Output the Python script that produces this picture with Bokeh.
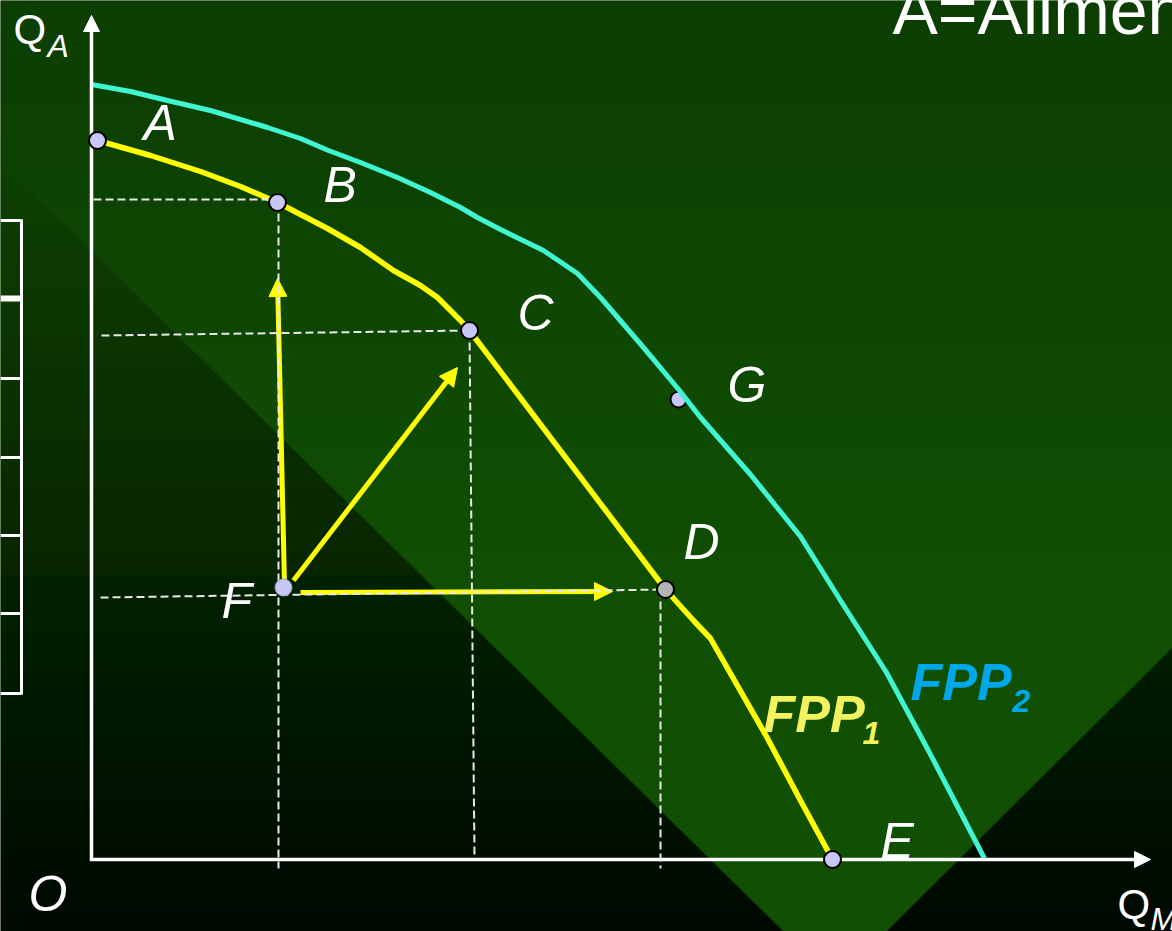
import numpy as np
from bokeh.plotting import figure
from bokeh.models import Range1d, Arrow, NormalHead
from bokeh.core.properties import value
from bokeh.embed import file_html
from bokeh.resources import INLINE

# ---------------- data (units measured from origin O: x right, y up) -------------
fpp1_x = [6, 59, 109, 149, 186, 236, 269, 302, 329, 346, 369, 378, 574, 602, 619, 675, 709, 741]
fpp1_y = [719, 704, 688, 673, 657, 631, 612, 589, 574, 562, 539, 529, 270, 239, 221, 123, 59, 0]

fpp2_x = [0, 39, 76, 119, 176, 209, 237, 269, 306, 339, 369, 386, 409, 452, 486, 509, 552, 588, 609, 659, 709, 749, 795, 839, 893]
fpp2_y = [775, 768, 759, 749, 732, 721, 709, 697, 682, 667, 652, 642, 630, 609, 586, 562, 512, 469, 442, 385, 323, 259, 187, 105, 1]

point_names = ["A", "B", "C", "D", "E", "F", "G"]
point_x = [6, 186, 378, 574, 741, 192, 587]
point_y = [719, 657, 529, 270, 0, 272, 460]

# movements from F (start -> end)
move_x0 = [193, 202, 209]
move_y0 = [275, 279, 267]
move_x1 = [186, 366, 521]
move_y1 = [581, 492, 268]

# dashed reference lines
ref_x0 = [2, 187, 10, 378, 9, 569]
ref_y0 = [660, 658, 524, 529, 262, 270]
ref_x1 = [186, 187, 378, 383, 574, 569]
ref_y1 = [660, -9, 529, 1, 270, -9]

# axis extents
x_axis_end = 1059
y_axis_end = 844

# label annotation positions (left edge, baseline)
label_x = [52, 232, 426, 592, 789, 130, 636]
label_y = [719, 657, 529, 300, 1, 241, 457]

FONT = value("Liberation Sans")


def mid(ys, size):
    """baseline -> vertical middle of the em box (text drawn with baseline 'middle')"""
    return [v + 0.35 * size for v in ys]


# ---------------- figure ----------------
X0, X1 = -91, 1081
Y0, Y1 = -72, 859
W, H = X1 - X0, Y1 - Y0
p = figure(width=W, height=H, x_range=Range1d(X0, X1), y_range=Range1d(Y0, Y1),
           output_backend="svg", toolbar_location=None, min_border=0,
           x_axis_location=None, y_axis_location=None,
           background_fill_color="#0c3f02", border_fill_color="#0c3f02",
           outline_line_color=None)
p.grid.visible = False

# ---------------- background (decoration) ----------------
cols = np.arange(W) + 0.5           # screen pixel x
rows = 931 - np.arange(H) - 0.5     # screen pixel y (row 0 at bottom)
PX, PY = np.meshgrid(cols, rows)

top_c = np.array([12, 62, 2], float)
mid_c = np.array([17, 80, 3], float)
t = np.clip(PY / 620.0, 0, 1)[..., None]
inside = top_c + t * (mid_c - top_c)

o1a = np.array([14, 65, 2], float); o1b = np.array([8, 37, 0], float)
o2a = np.array([0, 34, 0], float); o2b = np.array([0, 9, 0], float)
tu = np.clip((PY - 160) / 414.0, 0, 1)[..., None]
tl = np.clip((PY - 575) / 356.0, 0, 1)[..., None]
upper = o1a + tu * (o1b - o1a)
lower = o2a + tl * (o2b - o2a)
outside = np.where((PY < 575)[..., None], upper, lower)

m1 = (931 - 217) / (783 - 57)
d1 = (PY - (217 + m1 * (PX - 57))) / np.sqrt(1 + m1 * m1)
m2 = (931 - 647) / (886 - 1172)
d2 = (PY - (647 + m2 * (PX - 1172))) / np.sqrt(1 + m2 * m2)
a = np.clip(0.5 - np.maximum(d1, d2), 0, 1)[..., None]
col = a * inside + (1 - a) * outside

img = np.zeros((H, W), dtype=np.uint32)
view = img.view(dtype=np.uint8).reshape((H, W, 4))
view[..., :3] = np.clip(col, 0, 255).astype(np.uint8)
view[..., 3] = 255
p.image_rgba(image=[img], x=X0, y=Y0, dw=W, dh=H)

# partial table at the left edge
tab_y = [639, 561, 481, 402, 324, 246, 166]
tab_w = [3, 6, 3, 3, 3, 3, 3]
p.segment(x0=[X0] * len(tab_y), y0=tab_y, x1=[-70] * len(tab_y), y1=tab_y,
          line_color="white", line_width=tab_w)
p.segment(x0=[-70], y0=[640], x1=[-70], y1=[165], line_color="white", line_width=3)

# G marker sits beneath FPP2
gi = point_names.index("G")
p.scatter([point_x[gi]], [point_y[gi]], size=16, fill_color="#c8c8f8",
          line_color="black", line_width=2)

# curves
p.line(fpp2_x, fpp2_y, line_color="#40F5D2", line_width=5, line_join="round")
p.line(fpp1_x, fpp1_y, line_color="#FFFF00", line_width=5.5, line_join="round")

# yellow movement arrows
for i in range(len(move_x0)):
    p.add_layout(Arrow(end=NormalHead(size=18, fill_color="#FFFF00", line_color="#FFFF00", line_width=1),
                       x_start=move_x0[i], y_start=move_y0[i], x_end=move_x1[i], y_end=move_y1[i],
                       line_color="#FFFF00", line_width=5))

# axes with arrow heads
p.add_layout(Arrow(end=NormalHead(size=16, fill_color="white", line_color="white", line_width=1),
                   x_start=0, y_start=-1.5, x_end=0, y_end=y_axis_end, line_color="white", line_width=3.5))
p.add_layout(Arrow(end=NormalHead(size=16, fill_color="white", line_color="white", line_width=1),
                   x_start=-1.5, y_start=0, x_end=x_axis_end, y_end=0, line_color="white", line_width=3.5))

# dashed guide lines (above arrows)
p.segment(x0=ref_x0, y0=ref_y0, x1=ref_x1, y1=ref_y1, line_color="#e8e8e8",
          line_width=2, line_dash="8 4", level="overlay")

# points
others = [i for i in range(len(point_names)) if point_names[i] != "G"]
fills = {"D": "#b4b4b4", "F": "#c8c8f8"}
for i in others:
    n = point_names[i]
    p.scatter([point_x[i]], [point_y[i]], size=17, fill_color=fills.get(n, "#c8c8f8"),
              line_color="black" if n != "F" else "#9a9ac0", line_width=2 if n != "F" else 1,
              level="overlay")


def label(xs, ys, texts, size, color="white", style="normal"):
    p.text(x=xs, y=mid(ys, size), text=texts, text_font=FONT, text_font_size=f"{size}px",
           text_font_style=style, text_color=color, text_baseline="middle",
           text_align="left", level="overlay")


# point labels
label(label_x, label_y, point_names, 50, style="italic")
label([-63], [-52], ["O"], 50, style="italic")

# axis titles
label([-78, 1026], [815, -60], ["Q", "Q"], 42)
label([-44, 1059], [802, -71], ["A", "M"], 32, style="italic")

# curve labels
label([672], [127], ["FPP"], 52, color="#F3F35E", style="bold italic")
label([771], [115], ["1"], 32, color="#F3F35E", style="bold italic")
label([819], [159], ["FPP"], 52, color="#00A8E8", style="bold italic")
label([921], [147], ["2"], 32, color="#00A8E8", style="bold italic")

# note (top right, partly outside the slide)
label([801], [826], ["A=Alimentos"], 68)

open("out.html", "w").write(file_html(p, INLINE))
